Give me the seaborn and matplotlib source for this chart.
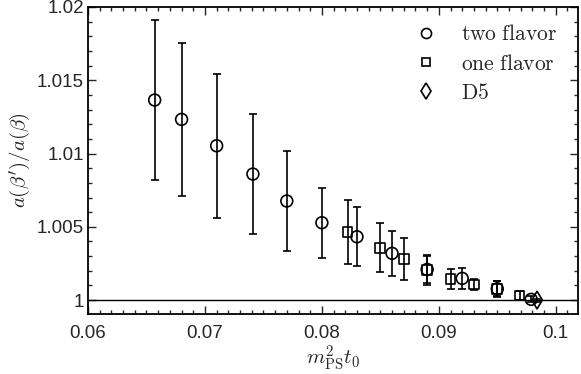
import numpy as np
import pandas as pd
import matplotlib
matplotlib.use('Agg')
import matplotlib.pyplot as plt
from matplotlib.lines import Line2D
from matplotlib.ticker import MultipleLocator
import seaborn as sns

# two flavor (circles)
two_x = [0.0657, 0.0680, 0.0710, 0.0741, 0.0770, 0.0800, 0.0830, 0.0860, 0.0890, 0.0920, 0.0950, 0.0979]
two_y = [1.01365, 1.01233, 1.01053, 1.00860, 1.00676, 1.00528, 1.00432, 1.00319, 1.00209, 1.00148, 1.00077, 1.00005]
two_err = [0.00545, 0.00520, 0.00490, 0.00410, 0.00340, 0.00240, 0.00200, 0.00155, 0.00095, 0.00070, 0.00053, 0.00020]

# one flavor (squares)
one_x = [0.0822, 0.0850, 0.0870, 0.0890, 0.0910, 0.0930, 0.0950, 0.0969]
one_y = [1.00466, 1.00357, 1.00282, 1.00205, 1.00143, 1.00107, 1.00077, 1.00032]
one_err = [0.00220, 0.00167, 0.00145, 0.00100, 0.00070, 0.00040, 0.00050, 0.00030]

# D5 (diamond)
d5_x = [0.0984]
d5_y = [1.00000]
d5_err = [0.00010]

labels = ['two flavor', 'one flavor', 'D5']
markers = {'two flavor': 'o', 'one flavor': 's', 'D5': 'd'}
msize = {'two flavor': 8.5, 'one flavor': 7, 'D5': 9}

df = pd.concat([
    pd.DataFrame({'x': two_x, 'y': two_y, 'err': two_err, 'set': 'two flavor'}),
    pd.DataFrame({'x': one_x, 'y': one_y, 'err': one_err, 'set': 'one flavor'}),
    pd.DataFrame({'x': d5_x, 'y': d5_y, 'err': d5_err, 'set': 'D5'}),
])

sns.set_style('ticks')
plt.rcParams['font.family'] = ['Liberation Sans', 'DejaVu Sans']
plt.rcParams['mathtext.fontset'] = 'cm'

fig = plt.figure(figsize=(5.81, 3.74), dpi=100)
ax = fig.add_axes([0.1515, 0.1604, 0.8433, 0.8209])

ax.axhline(1.0, color='black', lw=1.0, zorder=1)

for name in labels:
    sub = df[df['set'] == name]
    ax.errorbar(sub['x'], sub['y'], yerr=sub['err'], fmt='none', ecolor='black',
                elinewidth=1.2, capsize=3, capthick=1.2, zorder=2)
    sns.scatterplot(x=sub['x'], y=sub['y'], ax=ax, marker=markers[name],
                    s=(msize[name]) ** 2, facecolors='none', edgecolors='black',
                    linewidths=1.2, zorder=3, legend=False)

ax.set_xlim(0.06, 0.1019)
ax.set_ylim(0.99905, 1.02)
ax.xaxis.set_minor_locator(MultipleLocator(0.001))
ax.yaxis.set_minor_locator(MultipleLocator(0.001))
ax.set_xticks([0.06, 0.07, 0.08, 0.09, 0.1])
ax.set_xticklabels(['0.06', '0.07', '0.08', '0.09', '0.1'])
ax.set_yticks([1.0, 1.005, 1.01, 1.015, 1.02])
ax.set_yticklabels(['1', '1.005', '1.01', '1.015', '1.02'])
ax.tick_params(which='both', direction='in', top=True, right=True, labelsize=13.5, width=1.0)
ax.tick_params(which='major', length=6)
ax.tick_params(which='minor', length=3)
ax.tick_params(axis='x', which='major', pad=8)
ax.tick_params(axis='y', which='major', pad=3)
for s in ax.spines.values():
    s.set_linewidth(1.3)
    s.set_color('black')

ax.set_xlabel(r'$m_{\rm PS}^2 t_0$', fontsize=15, labelpad=1)
ax.set_ylabel(r'$a(\beta^\prime)/a(\beta)$', fontsize=15, labelpad=3)

handles = [Line2D([], [], ls='none', marker=markers[n], markersize=msize[n] * 0.85,
                  mfc='none', mec='black', mew=1.2) for n in labels]
ax.legend(handles, [r'$\mathrm{two\ flavor}$', r'$\mathrm{one\ flavor}$', r'$\mathrm{D5}$'],
          loc='upper right', bbox_to_anchor=(0.992, 1.0), frameon=False, fontsize=15.5,
          handletextpad=0.6, labelspacing=0.39, borderaxespad=0.4)

fig.savefig('out.png', dpi=100)
